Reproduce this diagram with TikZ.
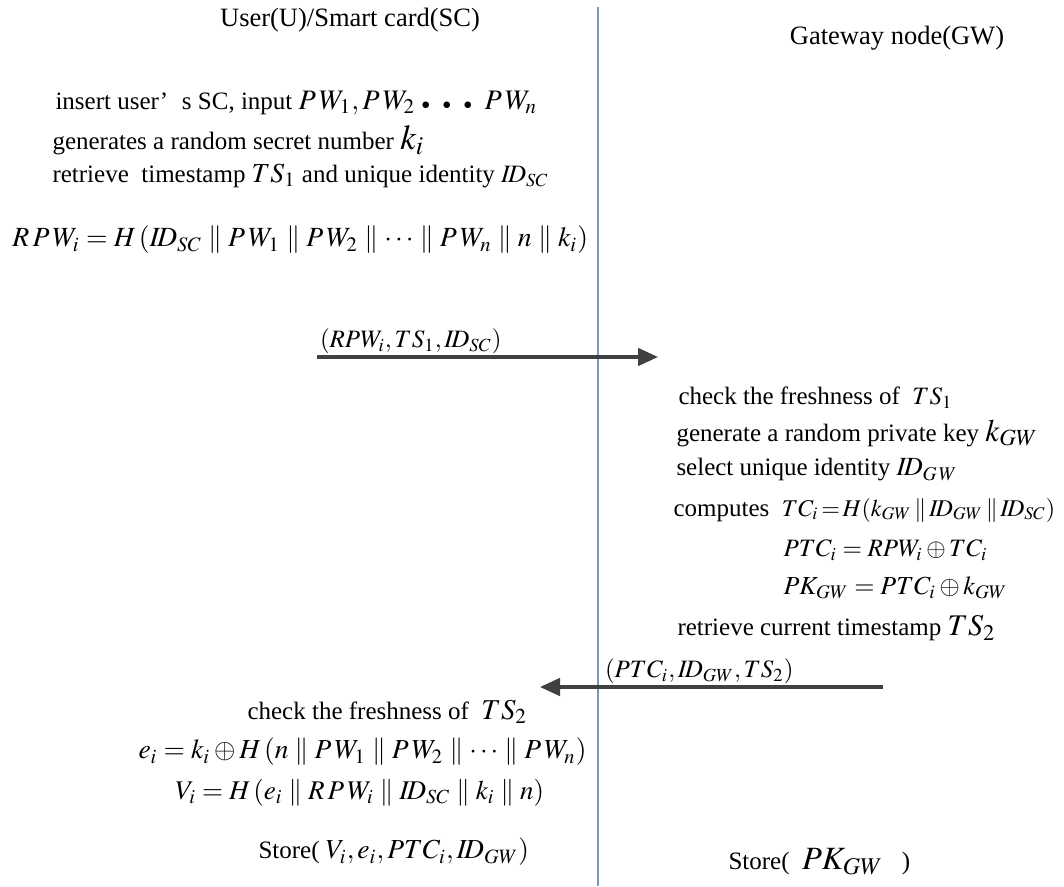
\documentclass[tikz,border=0pt]{standalone}
\usepackage{mathptmx}
\usepackage[no-math]{fontspec}
\setmainfont{Liberation Serif}
\usepackage{tikz}
\usetikzlibrary{arrows.meta, positioning}
\definecolor{lifeblue}{RGB}{122,152,194}
\definecolor{msggray}{RGB}{64,64,64}
\newcommand{\formula}[2][11]{{\fontsize{#1}{14}\selectfont$#2$}}
\newcommand{\tdots}{\;{\scriptscriptstyle\bullet}\;\;{\scriptscriptstyle\bullet}\;\;{\scriptscriptstyle\bullet}\;\;}
\tikzset{
  header/.style={inner sep=0pt, font=\fontsize{10.6}{12}\selectfont},
  stepline/.style={anchor=west, inner sep=0pt, font=\fontsize{10}{12}\selectfont},
  lifeline/.style={draw=lifeblue, line width=0.5pt},
  msgarrow/.style={-{Triangle[length=8pt,width=7pt]}, line width=1.25pt, color=msggray},
  msglabel/.style={anchor=south west, inner sep=1pt, font=\fontsize{10}{12}\selectfont}
}

\begin{document}
\begin{tikzpicture}[x=0.4pt, y=-0.4pt]
  \useasboundingbox (0,0) rectangle (1064,886);

  % Lifeline between the two parties
  \coordinate (life_top) at (598,7);
  \coordinate (life_bot) at (598,886);
  \draw[lifeline] (life_top) -- (life_bot);

  \node[header] (user_head) at (350,20) {User(U)/Smart card(SC)};
  \node[header] (gw_head) at (897,38) {Gateway node(GW)};

  % User side: registration request
  \node[stepline] (u_insert) at (55,103)
    {insert user’\hspace{0.55em}s SC, input \formula[11.3]{P\,W_1, P\,W_2\tdots P\,W_n}};
  \node[stepline] (u_rand) at (52,140)
    {generates a random secret number \formula[14]{k_i}};
  \node[stepline] (u_ts) at (52,176)
    {retrieve\ \ timestamp \formula[11]{TS_1} and unique identity \formula[10]{I\!D_{SC}}};
  \node[stepline] (u_rpw) at (12,240)
    {\formula[11.1]{R\,P\,W_i = H\,(I\!D_{SC} \parallel P\,W_1 \parallel P\,W_2 \parallel\cdots\parallel P\,W_n \parallel n \parallel k_i)}};

  % Message U -> GW
  \coordinate (m1_from) at (317,357);
  \coordinate (m1_to) at (658,357);
  \draw[msgarrow] (m1_from) -- (m1_to);
  \node[msglabel] (m1_label) at (m1_from) {$(RPW_i, TS_1, I\!D_{SC})$};

  % Gateway side
  \node[stepline] (g_fresh) at (678,398)
    {check the freshness of\ \ $TS_1$};
  \node[stepline] (g_key) at (676,433)
    {generate a random private key \formula[12.5]{k_{GW}}};
  \node[stepline] (g_id) at (676,470)
    {select unique identity \formula[10.5]{I\!D_{G\,W}}};
  \node[stepline] (g_comp) at (673,510)
    {computes\ \ \formula[9.6]{TC_i\!=\!H(k_{GW}\,\|\,I\!D_{GW}\,\|\,I\!D_{SC})}};
  \node[stepline] (g_ptc) at (783,550)
    {$PTC_i = RPW_i \oplus TC_i$};
  \node[stepline] (g_pk) at (783,588)
    {\formula[10.4]{PK_{GW} = PTC_i \oplus k_{GW}}};
  \node[stepline] (g_ts) at (677,628)
    {retrieve current timestamp \formula[12]{TS_2}};

  % Message GW -> U
  \coordinate (m2_from) at (883,687);
  \coordinate (m2_to) at (540,687);
  \draw[msgarrow] (m2_from) -- (m2_to);
  \node[msglabel] (m2_label) at (602,687) {$(PTC_i, I\!D_{GW}, TS_2)$};

  % User side: storing
  \node[stepline] (u_fresh) at (247,712)
    {check the freshness of\ \ \formula[11.5]{TS_2}};
  \node[stepline] (u_e) at (138,752)
    {\formula[11]{e_i = k_i \oplus H\,(n \parallel P\,W_1 \parallel P\,W_2 \parallel\cdots\parallel P\,W_n)}};
  \node[stepline] (u_v) at (175,793)
    {\formula[10.8]{V_i = H\,(e_i \parallel R\,P\,W_i \parallel I\!D_{SC} \parallel k_i \parallel n)}};
  \node[stepline] (u_store) at (258,852)
    {Store(\ \formula[11]{V_i, e_i, PTC_i, I\!D_{GW})}};
  \node[stepline] (g_store) at (728,862)
    {Store(\ \ \formula[13]{PK_{GW}}\ \ \ )};
\end{tikzpicture}
\end{document}
